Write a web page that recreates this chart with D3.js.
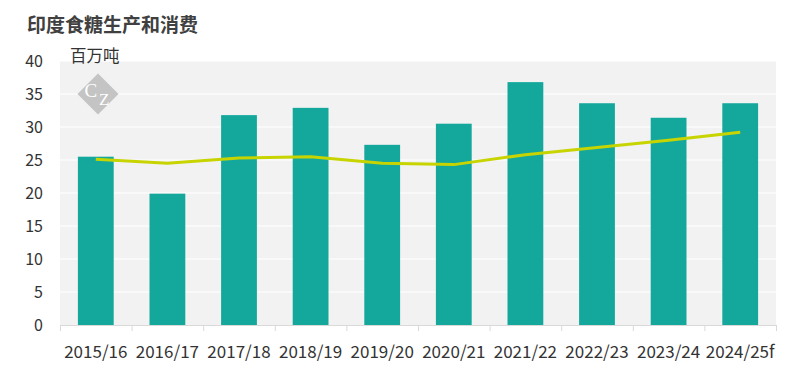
<!DOCTYPE html>
<html><head><meta charset="utf-8">
<script src="https://cdn.jsdelivr.net/npm/d3@7"></script>
<style>body{margin:0;background:#fff}svg{display:block}</style>
</head><body><svg id="c" width="794" height="381"></svg>
<script>
const categories = ["2015/16","2016/17","2017/18","2018/19","2019/20","2020/21","2021/22","2022/23","2023/24","2024/25f"];
const production = [25.5, 19.9, 31.8, 32.9, 27.3, 30.5, 36.8, 33.6, 31.4, 33.6];
const consumption = [25.1, 24.5, 25.3, 25.5, 24.5, 24.3, 25.8, 26.9, 28.0, 29.2];
const yTicks = [0,5,10,15,20,25,30,35,40];

const svg = d3.select("#c");
const m = {l:60, r:776, t:61, b:325};
const font = "'Noto Sans CJK SC', 'Liberation Sans', sans-serif";

const x = d3.scaleBand().domain(categories).range([m.l, m.r]).paddingInner(0.5).paddingOuter(0.25);
const xb = d3.scaleBand().domain(categories).range([m.l, m.r]);
const y = d3.scaleLinear().domain([0,40]).range([m.b, m.t]);

svg.append("rect").attr("x", m.l).attr("y", m.t).attr("width", m.r-m.l).attr("height", m.b-m.t).attr("fill", "#f2f2f2");

svg.append("g").selectAll("line").data(yTicks.filter(d=>d>0)).join("line")
  .attr("x1", m.l).attr("x2", m.r).attr("y1", d=>y(d)).attr("y2", d=>y(d))
  .attr("stroke", "#fff").attr("stroke-width", 1.2);

// logo
const lg = svg.append("g").attr("transform", "translate(98,94)");
lg.append("rect").attr("x",-14.5).attr("y",-14.5).attr("width",29).attr("height",29)
  .attr("transform","rotate(45)").attr("fill","#c4c4c4");
lg.append("text").attr("x",-13.5).attr("y",3).attr("font-size",19)
  .attr("font-family","'Liberation Serif', serif").attr("fill","#fff").text("C");
lg.append("text").attr("x",1).attr("y",11).attr("font-size",17)
  .attr("font-family","'Liberation Serif', serif").attr("fill","#fff").text("Z");

svg.append("g").selectAll("rect").data(production).join("rect")
  .attr("x", (d,i)=>x(categories[i])).attr("width", x.bandwidth())
  .attr("y", d=>y(d)).attr("height", d=>y(0)-y(d)).attr("fill", "#14a89c");

svg.append("path").datum(consumption)
  .attr("d", d3.line().x((d,i)=>xb(categories[i])+xb.bandwidth()/2).y(d=>y(d)))
  .attr("fill","none").attr("stroke","#c8d400").attr("stroke-width",3).attr("stroke-linejoin","round");

// x axis
svg.append("line").attr("x1", m.l).attr("x2", m.r).attr("y1", m.b+0.5).attr("y2", m.b+0.5).attr("stroke","#d9d9d9");
const bounds = categories.map(c=>xb(c)).concat([m.r]);
svg.append("g").selectAll("line").data(bounds).join("line")
  .attr("x1", d=>d+0.5).attr("x2", d=>d+0.5).attr("y1", m.b).attr("y2", m.b+6).attr("stroke","#d9d9d9");
svg.append("g").selectAll("text").data(categories).join("text")
  .attr("x", d=>xb(d)+xb.bandwidth()/2).attr("y", 358).attr("text-anchor","middle")
  .attr("font-family", font).attr("font-size", 17).attr("fill","#333").text(d=>d);

svg.append("g").selectAll("text").data(yTicks).join("text")
  .attr("x", 43).attr("y", d=>y(d)+6).attr("text-anchor","end")
  .attr("font-family", font).attr("font-size", 16).attr("fill","#333").text(d=>d);

svg.append("text").attr("x", 27).attr("y", 32).attr("font-family", font).attr("font-size", 19)
  .attr("font-weight","bold").attr("fill","#404040").text("印度食糖生产和消费");
svg.append("text").attr("x", 70).attr("y", 62).attr("font-family", font).attr("font-size", 16.5)
  .attr("fill","#333").text("百万吨");
</script></body></html>
